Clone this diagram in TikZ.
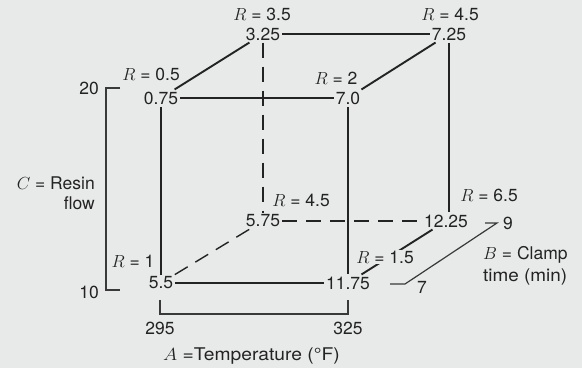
\RequirePackage{fix-cm}
\documentclass[tikz,border=0pt]{standalone}
\usepackage{fontspec}
\setmainfont{TeX Gyre Heros}
\definecolor{bg}{RGB}{232,233,233}
\definecolor{ink}{RGB}{35,35,35}
\begin{document}
\begin{tikzpicture}[x=1pt,y=-1pt,
  font=\fontsize{17.5}{21}\selectfont, text=ink,
  val/.style={inner sep=2pt},
  lab/.style={inner sep=1pt},
  mask/.style={inner sep=1pt, fill=bg},
  tick/.style={inner sep=0pt},
  edge/.style={draw=ink, line width=1.9pt},
  hid/.style={draw=ink, line width=1.4pt, dash pattern=on 15pt off 9pt},
  brk/.style={draw=ink!90, line width=1.2pt}]
\fill[bg] (0,0) rectangle (582,368);
\useasboundingbox (0,0) rectangle (582,368);

% cube vertices
\node[val] (v1) at (161,98) {0.75};
\node[val] (v2) at (348,98) {7.0};
\node[val] (v3) at (263,34) {3.25};
\node[val] (v4) at (449,34) {7.25};
\node[val] (v5) at (161,283) {5.5};
\node[val] (v6) at (348,283) {11.75};
\node[val] (v7) at (263,221) {5.75};
\node[val] (v8) at (446,221) {12.25};

% hidden edges
\draw[hid] (v3) -- (v7);
\draw[hid] (v7) -- (v8);
\draw[hid] (v5) -- (v7);

% visible edges
\draw[edge] (v1) -- (v2);
\draw[edge] (v3) -- (v4);
\draw[edge] (v5) -- (v6);
\draw[edge] (v1) -- (v5);
\draw[edge] (v2) -- (v6);
\draw[edge] (v4) -- (v4 |- v8.north);
\draw[edge] (v1) -- (v3);
\draw[edge] (v2) -- (v4);
\draw[edge] (v6) -- (v8);

% responses
\node[lab] (r3) at (262,14) {$R$ = 3.5};
\node[lab] (r4) at (450,14) {$R$ = 4.5};
\node[lab] (r1) at (151,74) {$R$ = 0.5};
\node[lab] (r2) at (336,78) {$R$ = 2};
\node[lab] (r7) at (301,200) {$R$ = 4.5};
\node[lab] (r8) at (489,195) {$R$ = 6.5};
\node[mask] (r6) at (385,257) {$R$ = 1.5};
\node[lab] (r5) at (133,261) {$R$ = 1};

% C axis
\coordinate (c1) at (120,88);
\coordinate (c2) at (106,88);
\coordinate (c3) at (106,290);
\coordinate (c4) at (120,290);
\draw[brk] (c1) -- (c2) -- (c3) -- (c4);
\node[tick] (c20) at (89,88) {20};
\node[tick] (c10) at (89,292) {10};
\node[tick, anchor=east, align=right] (clab) at (95,193) {$C$ = Resin\\[-1pt]flow};

% A axis
\coordinate (a1) at (160,300);
\coordinate (a2) at (160,314);
\coordinate (a3) at (348,314);
\coordinate (a4) at (348,300);
\draw[brk] (a1) -- (a2) -- (a3) -- (a4);
\node[tick] (a295) at (160,328) {295};
\node[tick] (a325) at (348,328) {325};
\node[tick, anchor=west] (alab) at (163,356) {\scalebox{1.1}[1]{$A$ =Temperature (°F)}};

% B axis
\coordinate (b1) at (390,284);
\coordinate (b2) at (405,284);
\coordinate (b3) at (497,223);
\coordinate (b4) at (485,223);
\draw[brk] (b1) -- (b2) -- (b3) -- (b4);
\node[tick] (b9) at (508,223) {9};
\node[tick] (b7) at (422,287) {7};
\node[tick, anchor=west, align=left] (blab) at (483,266) {$B$ = Clamp\\[1pt]\scalebox{1.08}[1]{time (min)}};
\end{tikzpicture}
\end{document}
